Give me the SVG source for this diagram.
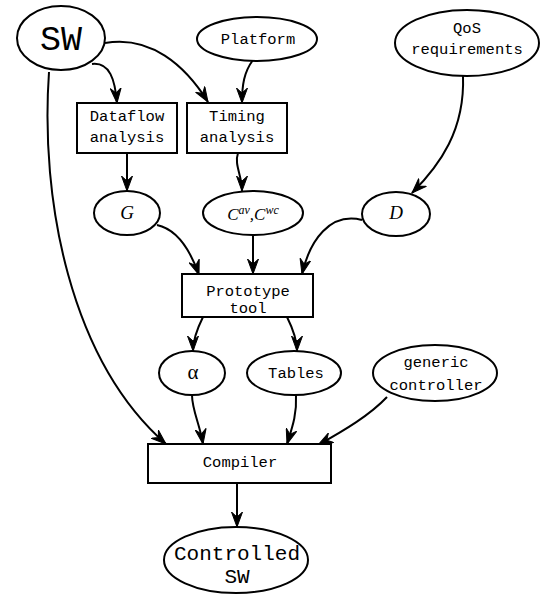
<svg xmlns="http://www.w3.org/2000/svg" width="546" height="594" viewBox="0 0 546 594">
<style>
.n{fill:#fff;stroke:#000;stroke-width:2}
.e{fill:none;stroke:#000;stroke-width:2;marker-end:url(#ah)}
.t{font-family:"Liberation Mono","Courier New",monospace;font-size:15.5px;text-anchor:middle;fill:#000}
.m{font-family:"Liberation Serif","Times New Roman",serif;font-style:italic;text-anchor:middle;fill:#000}
</style>
<defs>
<marker id="ah" markerUnits="userSpaceOnUse" markerWidth="16" markerHeight="12" refX="15" refY="5.5" orient="auto" viewBox="0 0 16 11">
<path d="M0,0 L15,5.5 L0,11 L5,5.5 Z" fill="#000" stroke="#000" stroke-width="1"/>
</marker>
</defs>
<rect width="546" height="594" fill="#fff"/>
<g id="edges">
<path class="e" d="M92,64 C110,62 115,80 117,103"/>
<path class="e" d="M105,43 C150,35 185,65 208,102"/>
<path class="e" d="M253,60 C244,72 242,85 242,103"/>
<path class="e" d="M463,76 C465,130 440,165 412,193"/>
<path class="e" d="M49,72 C40,200 70,360 166,444"/>
<path class="e" d="M127,153 L127,191"/>
<path class="e" d="M238,153 C234,165 242,175 242,191"/>
<path class="e" d="M157,225 C180,230 192,255 199,275"/>
<path class="e" d="M253,235 L253,274"/>
<path class="e" d="M362,220 C330,212 310,240 302,274"/>
<path class="e" d="M203,317 C198,327 193,338 193,351"/>
<path class="e" d="M287,317 C292,327 297,338 297,351"/>
<path class="e" d="M192,395 C192,410 200,425 203,444"/>
<path class="e" d="M296,395 C297,415 292,428 287,444"/>
<path class="e" d="M387,397 C370,415 345,430 318,445"/>
<path class="e" d="M237,483 L237,527"/>
</g>
<g id="sw"><ellipse class="n" cx="61" cy="38" rx="44" ry="32"/><text class="t" x="61" y="50" style="font-size:35px">SW</text></g>
<g id="platform"><ellipse class="n" cx="257" cy="39" rx="60" ry="22"/><text class="t" x="258" y="44">Platform</text></g>
<g id="qos"><ellipse class="n" cx="467" cy="43" rx="72" ry="33"/><text class="t" x="467" y="33">QoS</text><text class="t" x="467" y="54">requirements</text></g>
<g id="dataflow"><rect class="n" x="77" y="103" width="100" height="50"/><text class="t" x="127" y="121">Dataflow</text><text class="t" x="127" y="142">analysis</text></g>
<g id="timing"><rect class="n" x="187" y="103" width="100" height="50"/><text class="t" x="237" y="121">Timing</text><text class="t" x="237" y="142">analysis</text></g>
<g id="g"><ellipse class="n" cx="127" cy="213" rx="33" ry="22"/><text class="m" x="127" y="219" font-size="19">G</text></g>
<g id="cav"><ellipse class="n" cx="253" cy="213" rx="50" ry="22"/><text class="m" x="253" y="220" font-size="17">C<tspan dy="-6" font-size="12">av</tspan><tspan dy="6">,C</tspan><tspan dy="-6" font-size="12">wc</tspan></text></g>
<g id="d"><ellipse class="n" cx="396" cy="214" rx="34" ry="22"/><text class="m" x="396" y="219" font-size="19">D</text></g>
<g id="prototype"><rect class="n" x="182" y="274" width="131" height="43"/><text class="t" x="248" y="296">Prototype</text><text class="t" x="248" y="313">tool</text></g>
<g id="alpha"><ellipse class="n" cx="192" cy="373" rx="33" ry="22"/><text x="193" y="379" font-family="'Liberation Serif',serif" font-size="21" text-anchor="middle">α</text></g>
<g id="tables"><ellipse class="n" cx="294" cy="373" rx="47" ry="22"/><text class="t" x="296" y="378">Tables</text></g>
<g id="generic"><ellipse class="n" cx="435" cy="373" rx="62" ry="28"/><text class="t" x="436" y="367">generic</text><text class="t" x="436" y="390">controller</text></g>
<g id="compiler"><rect class="n" x="148" y="444" width="183" height="39"/><text class="t" x="240" y="467">Compiler</text></g>
<g id="controlled"><ellipse class="n" cx="236" cy="560" rx="72" ry="33"/><text class="t" x="237" y="560" style="font-size:21px">Controlled</text><text class="t" x="237" y="583" style="font-size:21px">SW</text></g>
</svg>
